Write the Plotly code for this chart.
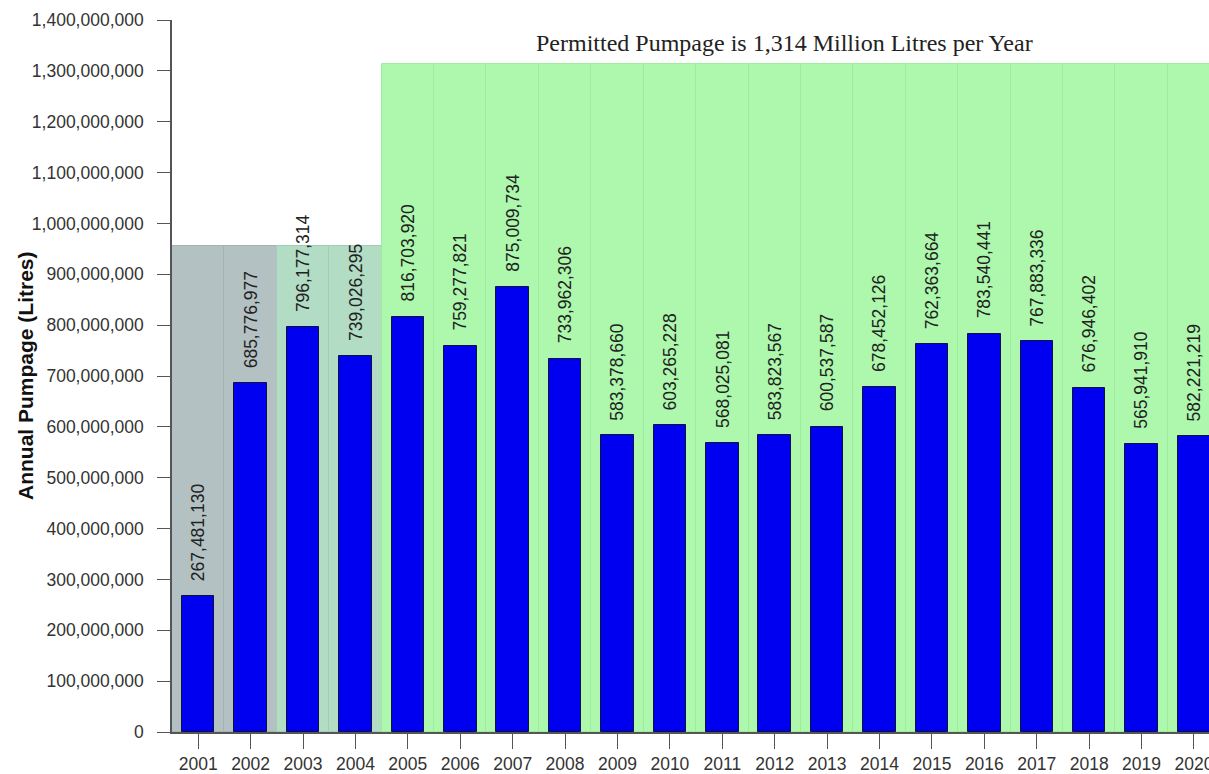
import plotly.graph_objects as go

# Annual pumpage, litres
years = [2001, 2002, 2003, 2004, 2005, 2006, 2007, 2008, 2009, 2010,
         2011, 2012, 2013, 2014, 2015, 2016, 2017, 2018, 2019, 2020]
pumpage = [267481130, 685776977, 796177314, 739026295, 816703920,
           759277821, 875009734, 733962306, 583378660, 603265228,
           568025081, 583823567, 600537587, 678452126, 762363664,
           783540441, 767883336, 676946402, 565941910, 582221219]

# Permitted volume in force each year, litres
permitted = [955000000, 955000000, 955000000, 955000000, 1314000000,
             1314000000, 1314000000, 1314000000, 1314000000, 1314000000,
             1314000000, 1314000000, 1314000000, 1314000000, 1314000000,
             1314000000, 1314000000, 1314000000, 1314000000, 1314000000]
permit_phase = ["early", "early", "interim", "interim", "current",
                "current", "current", "current", "current", "current",
                "current", "current", "current", "current", "current",
                "current", "current", "current", "current", "current"]

y_ticks = [0, 100000000, 200000000, 300000000, 400000000, 500000000,
           600000000, 700000000, 800000000, 900000000, 1000000000,
           1100000000, 1200000000, 1300000000, 1400000000]

phase_fill = {"early": "#b4c1c3", "interim": "#b2dcc4", "current": "#adf8ad"}
phase_edge = {"early": "#a5b2b4", "interim": "#a2ccb4", "current": "#9deb9d"}

SANS = "Liberation Sans, Arial, sans-serif"
SERIF = "Liberation Serif, Times New Roman, serif"

# The figure runs slightly past the right edge of the page, so the last
# year is cut off at the border
FIG_W = 1216
LEFT = 172
PLOT_W = FIG_W - LEFT

fig = go.Figure()

# Permit background, one full-width block per year
fig.add_trace(go.Bar(
    x=years, y=permitted, width=1.0,
    marker=dict(color=[phase_fill[p] for p in permit_phase],
                line=dict(color=[phase_edge[p] for p in permit_phase], width=1)),
    hoverinfo="skip", showlegend=False,
))

# Actual pumpage
fig.add_trace(go.Bar(
    x=years, y=pumpage, width=0.62,
    marker=dict(color="#0000f0", line=dict(color="#101040", width=1)),
    showlegend=False,
))

annotations = []
for yr, v in zip(years, pumpage):
    annotations.append(dict(
        x=yr, y=v, xref="x", yref="y", text=f"{v:,}", showarrow=False,
        textangle=-90, xanchor="center", yanchor="bottom", yshift=13,
        font=dict(family=SANS, size=17.5, color="#222222"),
    ))

annotations.append(dict(
    x=(784 - LEFT) / PLOT_W, y=(735 - 43) / 715, xref="paper", yref="paper",
    text="Permitted Pumpage is 1,314 Million Litres per Year",
    showarrow=False, xanchor="center", yanchor="middle",
    font=dict(family=SERIF, size=24, color="#222222"),
))

annotations.append(dict(
    x=(25 - LEFT) / PLOT_W, y=0.5, xref="paper", yref="paper",
    text="<b>Annual Pumpage (Litres)</b>", showarrow=False, textangle=-90,
    xanchor="center", yanchor="middle",
    font=dict(family=SANS, size=21, color="#111111"),
))

fig.update_layout(
    width=FIG_W, height=774,
    margin=dict(l=LEFT, r=0, t=20, b=39),
    barmode="overlay",
    plot_bgcolor="white", paper_bgcolor="white",
    annotations=annotations,
    bargap=0,
)

fig.update_xaxes(
    range=[2000.5, 2020.42], tickmode="array", tickvals=years,
    ticktext=[str(y) for y in years],
    ticks="outside", ticklen=15, tickwidth=1.2, tickcolor="#555555",
    showline=True, linecolor="#555555", linewidth=1.5, showgrid=False,
    zeroline=False, ticklabeloverflow="allow",
    tickfont=dict(family=SANS, size=17.5, color="#333333"),
)

fig.update_yaxes(
    range=[0, 1400000000], tickmode="array", tickvals=y_ticks,
    ticktext=[f"{t:,}" for t in y_ticks],
    ticks="outside", ticklen=13, tickwidth=1.2, tickcolor="#555555",
    showline=True, linecolor="#555555", linewidth=1.5, showgrid=False,
    zeroline=False, ticklabelstandoff=10,
    tickfont=dict(family=SANS, size=17.5, color="#333333"),
)

# Page without body margin or scrollbars so the figure sits flush in the window
fig.write_html(
    "out.html",
    post_script="document.body.style.margin='0';document.body.style.overflow='hidden';",
)
